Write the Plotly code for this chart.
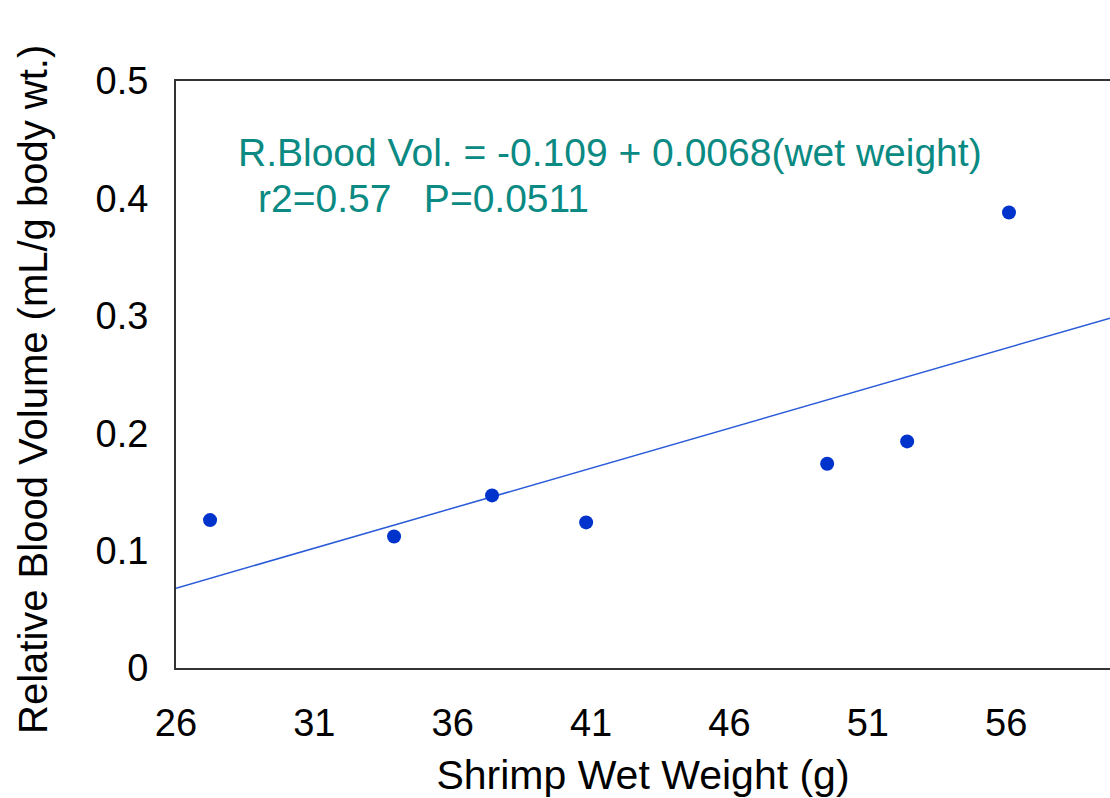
import plotly.graph_objects as go

# Data
wet_weight = [27.23, 33.88, 37.42, 40.82, 49.53, 52.42, 56.10]
rel_blood_vol = [0.126, 0.112, 0.147, 0.124, 0.174, 0.193, 0.388]

# Regression line endpoints (R.Blood Vol. = -0.109 + 0.0068 * wet weight)
fit_x = [26.0, 59.75]
fit_y = [0.068, 0.298]

x_ticks = [26, 31, 36, 41, 46, 51, 56]
y_ticks = [0, 0.1, 0.2, 0.3, 0.4, 0.5]
y_tick_text = ["0", "0.1", "0.2", "0.3", "0.4", "0.5"]

FONT = "Liberation Sans, Arial, sans-serif"
TEAL = "#0a8a82"

fig = go.Figure()
fig.add_trace(go.Scatter(
    x=fit_x, y=fit_y, mode="lines",
    line=dict(color="#2a5bd7", width=1.5),
    showlegend=False, hoverinfo="skip",
))
fig.add_trace(go.Scatter(
    x=wet_weight, y=rel_blood_vol, mode="markers",
    marker=dict(color="#0033cc", size=14),
    showlegend=False,
))

fig.add_annotation(
    x=28.17, y=0.4395, xref="x", yref="y",
    text="R.Blood Vol. = -0.109 + 0.0068(wet weight)",
    showarrow=False, xanchor="left", yanchor="middle",
    font=dict(family=FONT, size=39, color=TEAL),
)
fig.add_annotation(
    x=28.89, y=0.3995, xref="x", yref="y",
    text="r2=0.57   P=0.0511",
    showarrow=False, xanchor="left", yanchor="middle",
    font=dict(family=FONT, size=39, color=TEAL),
)

plot_w = 1110 - 176
plot_h = 798 - 81 - 130
# y-axis title
fig.add_annotation(
    x=(33 - 176) / plot_w, y=(668 - 390) / plot_h,
    xref="paper", yref="paper",
    xanchor="center", yanchor="middle",
    text="Relative Blood Volume (mL/g body wt.)",
    showarrow=False, textangle=-90,
    font=dict(family=FONT, size=40, color="black"),
)

fig.update_layout(
    width=1110, height=798,
    margin=dict(l=176, r=0, t=81, b=130, autoexpand=False),
    paper_bgcolor="white", plot_bgcolor="white",
    font=dict(family=FONT, color="black"),
)

fig.update_xaxes(
    range=[26, 59.75], tickvals=x_ticks, ticktext=[str(v) for v in x_ticks],
    showgrid=False, zeroline=False,
    showline=True, mirror=True, linecolor="#333333", linewidth=2,
    ticks="outside", ticklen=20, tickcolor="rgba(0,0,0,0)",
    tickfont=dict(family=FONT, size=38, color="black"),
    title=dict(text="Shrimp Wet Weight (g)", standoff=28,
               font=dict(family=FONT, size=41, color="black")),
    automargin=False,
)
fig.update_yaxes(
    range=[0, 0.5], tickvals=y_ticks, ticktext=y_tick_text,
    showgrid=False, zeroline=False,
    showline=True, linecolor="#333333", linewidth=2,
    ticks="outside", ticklen=18, tickcolor="rgba(0,0,0,0)",
    tickfont=dict(family=FONT, size=38, color="black"),
    automargin=False,
)

fig.write_html("out.html")
